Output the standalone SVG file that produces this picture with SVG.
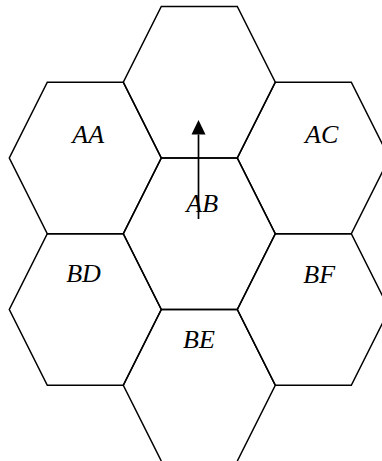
<svg xmlns="http://www.w3.org/2000/svg" width="382" height="461" viewBox="0 0 382 461">
<style>
.hex{fill:none;stroke:#000;stroke-width:1.5;stroke-linejoin:miter}
.lbl{font-family:"Liberation Serif","Times New Roman",serif;font-style:italic;font-size:26px;fill:#000}
.arr{stroke:#000;stroke-width:1.7;fill:none}
</style>
<defs>
<marker id="ah" markerUnits="userSpaceOnUse" markerWidth="15" markerHeight="15" refX="0" refY="7" orient="auto" viewBox="0 0 15 14">
<path d="M0,0 L14.5,7 L0,14 z" fill="#000"/>
</marker>
</defs>
<rect width="382" height="461" fill="#fff"/>
<g id="top">
<polygon class="hex" points="161.3,6.5 237.3,6.5 275.3,82.25 237.3,158 161.3,158 123.3,82.25"/>
</g>
<g id="AA">
<polygon class="hex" points="47.3,82.25 123.3,82.25 161.3,158 123.3,233.75 47.3,233.75 9.3,158"/>
<text class="lbl" x="72.3" y="143">AA</text>
</g>
<g id="AC">
<polygon class="hex" points="275.3,82.25 351.3,82.25 389.3,158 351.3,233.75 275.3,233.75 237.3,158"/>
<text class="lbl" x="305" y="143">AC</text>
</g>
<g id="AB">
<polygon class="hex" points="161.3,158 237.3,158 275.3,233.75 237.3,309.5 161.3,309.5 123.3,233.75"/>
<text class="lbl" x="186.3" y="212">AB</text>
</g>
<g id="BD">
<polygon class="hex" points="47.3,233.75 123.3,233.75 161.3,309.5 123.3,385.25 47.3,385.25 9.3,309.5"/>
<text class="lbl" x="66.2" y="282">BD</text>
</g>
<g id="BF">
<polygon class="hex" points="275.3,233.75 351.3,233.75 389.3,309.5 351.3,385.25 275.3,385.25 237.3,309.5"/>
<text class="lbl" x="303.3" y="282.5">BF</text>
</g>
<g id="BE">
<path class="hex" d="M161.3,461 L123.3,385.25 L161.3,309.5 L237.3,309.5 L275.3,385.25 L237.3,461"/>
<text class="lbl" x="183" y="348">BE</text>
</g>
<g id="connectors">
<line class="arr" x1="198.5" y1="219" x2="198.5" y2="134.5" marker-end="url(#ah)"/>
</g>
</svg>
